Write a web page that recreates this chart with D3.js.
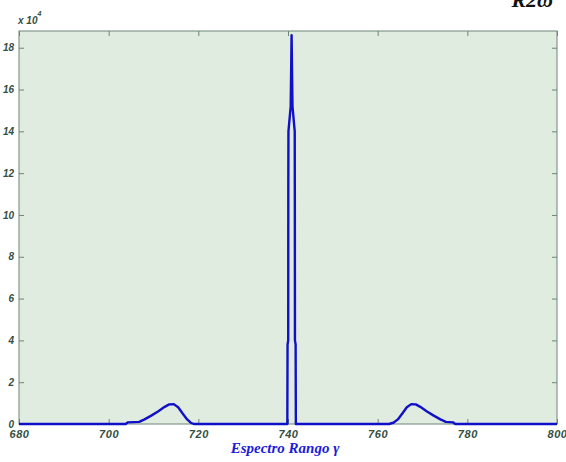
<!DOCTYPE html>
<html>
<head>
<meta charset="utf-8">
<script src="https://cdn.jsdelivr.net/npm/d3@7"></script>
<style>
  html, body { margin: 0; padding: 0; background: #ffffff; }
  svg { display: block; }
</style>
</head>
<body>
<svg id="chart" width="566" height="462"></svg>
<script>
// Range spectrum: frequency bins and magnitude (in units of 10^4)
const freq = [
  680, 700, 703.8, 704.3, 706.8, 708, 709.5, 711, 712.5, 713.5, 714.5, 715.5, 716.5, 717.5, 718.3, 719,
  730, 739.85, 739.9, 740.05, 740.07, 740.1, 740.6, 740.8, 741.0, 741.5, 741.52, 741.55, 741.7, 741.75,
  755, 762.5, 763.5, 764.5, 765.5, 766.5, 767.5, 768.5, 769.5, 771, 772.5, 774, 775.2, 776.8, 777.3, 800
];
const magnitude = [
  0, 0, 0, 0.08, 0.1, 0.22, 0.4, 0.6, 0.82, 0.94, 0.95, 0.8, 0.5, 0.22, 0.06, 0,
  0, 0, 3.8, 4.0, 11.3, 14.0, 15.2, 18.6, 15.2, 14.0, 11.3, 4.0, 3.8, 0,
  0, 0, 0.06, 0.22, 0.5, 0.8, 0.95, 0.94, 0.82, 0.6, 0.4, 0.22, 0.1, 0.08, 0, 0
];
const xTicks = [680, 700, 720, 740, 760, 780, 800];
const yTicks = [0, 2, 4, 6, 8, 10, 12, 14, 16, 18];
const xDomain = [680, 800];
const yDomain = [0, 18.8];
const xLabel = "Espectro Rango γ";
const exponentBase = "x 10";
const exponentPower = "4";
const titleText = "R2ω";

const svg = d3.select("#chart");
const plot = { left: 19, right: 557, top: 31, bottom: 424 };

const x = d3.scaleLinear().domain(xDomain).range([plot.left, plot.right]);
const y = d3.scaleLinear().domain(yDomain).range([plot.bottom, plot.top]);

const axisColor = "#6c8676";
const labelColor = "#34503f";
const labelFont = "'Liberation Sans', Arial, sans-serif";

// plot background
svg.append("rect")
  .attr("x", plot.left).attr("y", plot.top)
  .attr("width", plot.right - plot.left).attr("height", plot.bottom - plot.top)
  .attr("fill", "#e1ece1");

// axes with inward ticks
function styleAxis(g) {
  g.select(".domain").remove();
  g.selectAll(".tick line").attr("stroke", axisColor).attr("stroke-width", 1);
  g.selectAll(".tick text")
    .attr("fill", labelColor)
    .style("font-family", labelFont)
    .style("font-weight", "bold")
    .style("font-style", "italic")
    .style("font-size", "11px");
}

const fmt = d => String(d);
svg.append("g").attr("transform", `translate(0,${plot.bottom})`)
  .call(d3.axisBottom(x).tickValues(xTicks).tickFormat(fmt).tickSizeInner(-5).tickPadding(6))
  .call(styleAxis)
  .call(g => g.selectAll(".tick text").style("letter-spacing", "0.6px"));
svg.append("g").attr("transform", `translate(0,${plot.top})`)
  .call(d3.axisTop(x).tickValues(xTicks).tickFormat("").tickSizeInner(-5))
  .call(styleAxis);
svg.append("g").attr("transform", `translate(${plot.left},0)`)
  .call(d3.axisLeft(y).tickValues(yTicks).tickFormat(fmt).tickSizeInner(-5).tickPadding(5))
  .call(styleAxis)
  .call(g => g.selectAll(".tick text").style("font-size", "10px"));
svg.append("g").attr("transform", `translate(${plot.right},0)`)
  .call(d3.axisRight(y).tickValues(yTicks).tickFormat("").tickSizeInner(-5))
  .call(styleAxis);

// frame
svg.append("rect")
  .attr("x", plot.left).attr("y", plot.top)
  .attr("width", plot.right - plot.left).attr("height", plot.bottom - plot.top)
  .attr("fill", "none").attr("stroke", axisColor).attr("stroke-width", 1);

// spectrum trace
const pts = freq.map((f, i) => [f, magnitude[i]]);
const line = d3.line().x(d => x(d[0])).y(d => y(d[1]));
svg.append("path")
  .datum(pts)
  .attr("d", line)
  .attr("fill", "none")
  .attr("stroke", "#1010c8")
  .attr("stroke-width", 2.4)
  .attr("stroke-linejoin", "round");

// exponent label
const expo = svg.append("text")
  .attr("x", plot.left - 1).attr("y", 24)
  .attr("fill", labelColor)
  .style("font-family", labelFont)
  .style("font-weight", "bold").style("font-style", "italic")
  .style("font-size", "10px");
expo.append("tspan").text(exponentBase);
expo.append("tspan").attr("dy", -8).style("font-size", "7px").text(exponentPower);

// x-axis label
svg.append("text")
  .attr("x", 285).attr("y", 453)
  .attr("text-anchor", "middle")
  .attr("fill", "#1c1cd8")
  .style("font-family", "'Liberation Serif', 'Times New Roman', serif")
  .style("font-weight", "bold").style("font-style", "italic")
  .style("font-size", "15px")
  .text(xLabel);

// title (partly above the page)
svg.append("text")
  .attr("x", 553).attr("y", 7)
  .attr("text-anchor", "end")
  .attr("fill", "#111111")
  .style("font-family", "'Liberation Serif', 'Times New Roman', serif")
  .style("font-weight", "bold").style("font-style", "italic")
  .style("font-size", "22px")
  .text(titleText);
</script>
</body>
</html>
